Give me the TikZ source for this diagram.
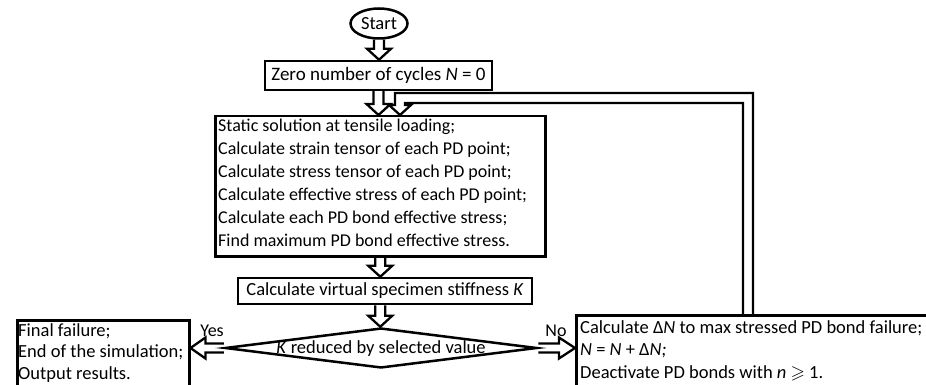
\documentclass[tikz,border=0pt]{standalone}
\usepackage{fontspec}
\setmainfont{Carlito}
\usepackage{amssymb}
\usetikzlibrary{shapes.geometric,calc}

\tikzset{
  boxline/.style={draw, line width=2.5pt},
  blk/.style={draw, line width=2.3pt, line join=miter},
  txt/.style={align=left, inner sep=0pt},
  fnt/.style={font=\fontsize{18.5}{22}\selectfont},
}

% hollow block arrows
\newcommand\blkdown[2]{%
  \draw[blk] let \p1=#1, \p2=#2 in
    (\x1-5pt,\y1) -- (\x1-5pt,\y2+11pt) -- (\x1-12pt,\y2+11pt) -- (\x1,\y2)
    -- (\x1+12pt,\y2+11pt) -- (\x1+5pt,\y2+11pt) -- (\x1+5pt,\y1);}
\newcommand\blkleft[2]{%
  \draw[blk] let \p1=#1, \p2=#2 in
    (\x1,\y1+4.5pt) -- (\x2+15pt,\y1+4.5pt) -- (\x2+15pt,\y1+10.5pt) -- (\x2,\y1)
    -- (\x2+15pt,\y1-10.5pt) -- (\x2+15pt,\y1-4.5pt) -- (\x1,\y1-4.5pt);}
\newcommand\blkright[2]{%
  \draw[blk] let \p1=#1, \p2=#2 in
    (\x1,\y1+4.5pt) -- (\x2-16pt,\y1+4.5pt) -- (\x2-16pt,\y1+10.5pt) -- (\x2,\y1)
    -- (\x2-16pt,\y1-10.5pt) -- (\x2-16pt,\y1-4.5pt) -- (\x1,\y1-4.5pt);}

\begin{document}
\begin{tikzpicture}[x=1pt,y=-1pt]
\useasboundingbox (0,0) rectangle (926,385);
\clip (0,0) rectangle (926,385);

\node[boxline, ellipse, minimum width=57pt, minimum height=30pt, inner sep=0pt,
      font=\fontsize{18.5}{21}\selectfont] (start) at (379,23.5) {Start};

\node[boxline, minimum width=227pt, minimum height=29pt, inner sep=0pt,
      font=\fontsize{19}{22}\selectfont] (zero) at (378.5,75.5)
      {Zero number of cycles \textit{N} = 0};

\node[boxline, anchor=north west, minimum width=330pt, minimum height=140pt] (static) at (214,115) {};
\node[txt, anchor=north west, font=\fontsize{18}{23}\selectfont] (statictxt) at (218,119)
 {Static solution at tensile loading;\\
  Calculate strain tensor of each PD point;\\
  Calculate stress tensor of each PD point;\\
  Calculate effective stress of each PD point;\\
  Calculate each PD bond effective stress;\\
  Find maximum PD bond effective stress.};

\node[boxline, fnt, minimum width=294pt, minimum height=26pt, inner sep=0pt] (stiff) at (385,291)
      {Calculate virtual specimen stiffness \textit{K}};

\node[boxline, fnt, diamond, aspect=7.8, minimum width=312pt, minimum height=40pt,
      inner sep=0pt, text height=11pt, text depth=1pt] (dec) at (381,348)
      {\textit{K} reduced by selected value};

\node[boxline, anchor=north west, minimum width=172pt, minimum height=80pt] (fail) at (16,319) {};
\node[txt, anchor=north west, font=\fontsize{18.5}{21.5}\selectfont] (failtxt) at (18,323)
 {Final failure;\\ End of the simulation;\\ Output results.};

\node[boxline, anchor=north west, minimum width=370pt, minimum height=90pt] (calc) at (575,314) {};
\node[txt, anchor=north west, font=\fontsize{18.5}{22.5}\selectfont] (calctxt) at (580,320)
 {Calculate Δ\textit{N} to max stressed PD bond failure;\\
  \textit{N} = \textit{N} + Δ\textit{N;}\\
  Deactivate PD bonds with \textit{n} $\geqslant$ 1.};

\node[font=\fontsize{18}{20}\selectfont, inner sep=0pt] (yes) at (212,331) {Yes};
\node[font=\fontsize{18}{20}\selectfont, inner sep=0pt] (no) at (556,331) {No};

% vertical arrows
\blkdown{(start.south)}{(zero.north)}
\blkdown{(zero.south)}{(static.north)}
\blkdown{(static.south)}{(stiff.north -| static.south)}
\blkdown{(stiff.south -| static.south)}{(dec.north)}

% side arrows
\blkleft{(dec.west)}{(fail.east |- dec.west)}
\blkright{(dec.east)}{(calc.west |- dec.east)}

% feedback loop
\coordinate (loopR) at (748,98);
\coordinate (loopL) at (400,98);
\draw[blk] let \p1=(loopR), \p2=(loopL), \p3=(static.north), \p4=(calc.north) in
  (\x1+5pt,\y4) -- (\x1+5pt,\y1+5pt) -- (\x2-5pt,\y1+5pt) -- (\x2-5pt,\y3+10pt)
  -- (\x2-11pt,\y3+10pt) -- (\x2,\y3) -- (\x2+11pt,\y3+10pt) -- (\x2+5pt,\y3+10pt)
  -- (\x2+5pt,\y1-5pt) -- (\x1-5pt,\y1-5pt) -- (\x1-5pt,\y4);
\end{tikzpicture}
\end{document}
